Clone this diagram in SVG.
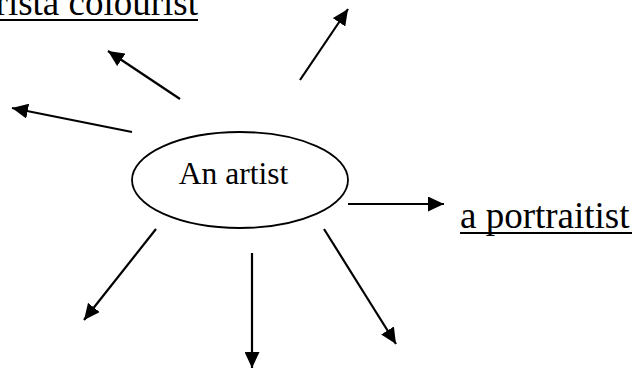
<svg xmlns="http://www.w3.org/2000/svg" width="639" height="369" viewBox="0 0 639 369">
  <style>
    .lbl { font-family: "Liberation Serif", "Times New Roman", serif; fill: #000; }
    .conn { stroke: #000; stroke-width: 2.2; fill: none; marker-end: url(#ah); }
    .ul { stroke: #000; stroke-width: 2; }
  </style>
  <defs>
    <marker id="ah" markerUnits="userSpaceOnUse" markerWidth="16" markerHeight="15" refX="16" refY="7.5" orient="auto">
      <path d="M0,0 L16,7.5 L0,15 z" fill="#000"/>
    </marker>
  </defs>
  <rect width="639" height="369" fill="#fff"/>
  <g id="connectors">
    <line class="conn" x1="300" y1="80" x2="348" y2="9"/>
    <line class="conn" x1="180" y1="99" x2="108" y2="51"/>
    <line class="conn" x1="132" y1="132" x2="12" y2="108"/>
    <line class="conn" x1="348" y1="204" x2="444" y2="204"/>
    <line class="conn" x1="324" y1="229" x2="396" y2="344"/>
    <line class="conn" x1="252" y1="253" x2="252" y2="368"/>
    <line class="conn" x1="156" y1="229" x2="84" y2="320"/>
  </g>
  <g id="center">
    <ellipse cx="240" cy="180" rx="108" ry="48" fill="#fff" stroke="#000" stroke-width="1.8"/>
    <text class="lbl" x="233.5" y="184" font-size="31.5" text-anchor="middle">An artist</text>
  </g>
  <g id="colourist">
    <text class="lbl" x="198" y="15" font-size="37" text-anchor="end">rista colourist</text>
    <line class="ul" x1="0" y1="20" x2="198" y2="20"/>
  </g>
  <g id="portraitist">
    <text class="lbl" x="460" y="228" font-size="37">a portraitist</text>
    <line class="ul" x1="460" y1="233" x2="632" y2="233"/>
  </g>
</svg>
